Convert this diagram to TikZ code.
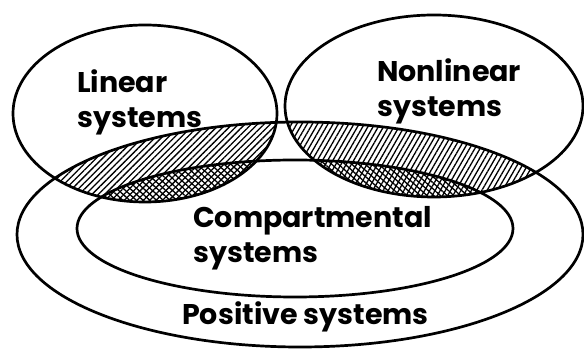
\documentclass[tikz,border=0pt]{standalone}
\usepackage{fontspec}
\setmainfont{Poppins}
\usetikzlibrary{patterns.meta}

\begin{document}
\begin{tikzpicture}[
    x=1pt, y=1pt,
    font=\fontsize{28.5}{35}\selectfont\bfseries,
    setline/.style={line width=2.7pt},
    lbl/.style={inner sep=0pt, align=left, anchor=base west},
    % the four sets
    linearset/.style={insert path={(145,236.5) ellipse [x radius=132, y radius=88.5]}},
    nonlinset/.style={insert path={(434,244) ellipse [x radius=149, y radius=91]}},
    posset/.style={insert path={(300,115.5) ellipse [x radius=283, y radius=112.5]}},
    compset/.style={insert path={(295,121.5) ellipse [x radius=218, y radius=68.5]}},
    hatchA/.style={pattern={Lines[angle=45, distance=4.5pt, line width=1.3pt]}},
    hatchB/.style={pattern={Lines[angle=-42, distance=4.5pt, line width=1.3pt]}},
    hatchC/.style={pattern={Lines[angle=60, distance=4.5pt, line width=1.3pt]}}
]
\useasboundingbox (0,0) rectangle (584,350);

% hatched overlaps
\begin{scope}
  \clip [linearset];
  \fill [hatchA, posset];
  \fill [hatchB, compset];
\end{scope}
\begin{scope}
  \clip [nonlinset];
  \fill [hatchC, posset];
  \fill [hatchB, compset];
\end{scope}

% outlines
\draw [setline, linearset];
\draw [setline, nonlinset];
\draw [setline, posset];
\draw [setline, compset];

% labels (anchored at the baseline of the last line)
\node[lbl] (linear) at (77,222) {Linear\\systems};
\node[lbl] (nonlinear) at (377,233) {Nonlinear\\systems};
\node[lbl] (comp) at (193,87) {Compartmental\\systems};
\node[lbl] (pos) at (182,25) {Positive systems};
\end{tikzpicture}
\end{document}
